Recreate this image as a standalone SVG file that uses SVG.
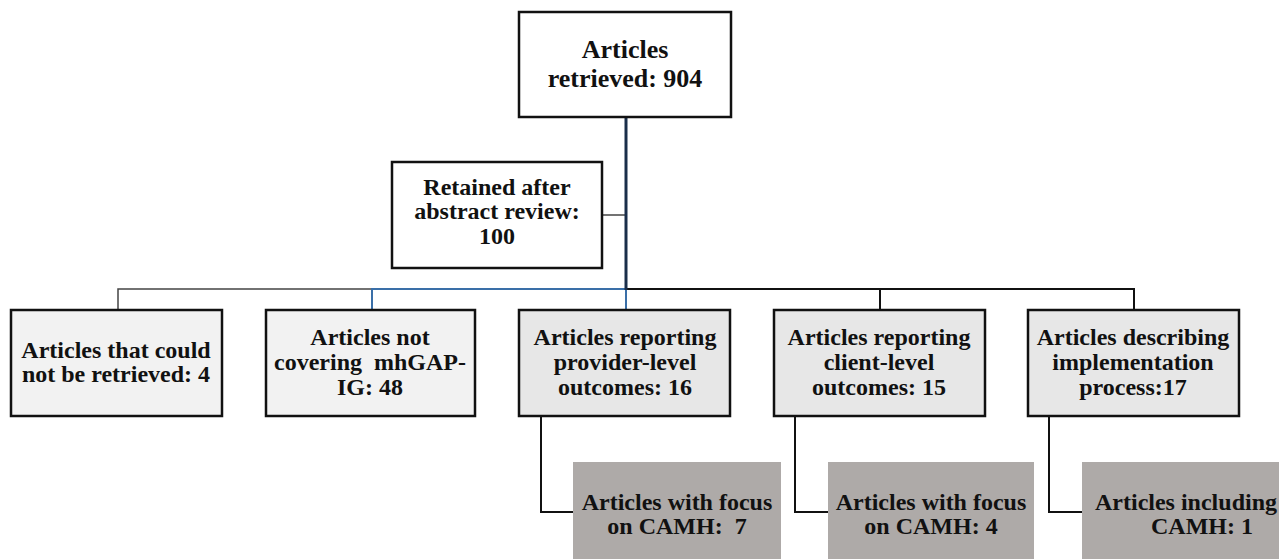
<svg xmlns="http://www.w3.org/2000/svg" width="1279" height="559" viewBox="0 0 1279 559">
<style>
text{font-weight:bold;fill:#111;text-anchor:middle}
.t{font-size:24px}
.top{font-size:26px}
.b0{fill:#fff;stroke:#111;stroke-width:2.5}
.b1{fill:#f2f2f2;stroke:#111;stroke-width:2.5}
.b2{fill:#e7e7e7;stroke:#111;stroke-width:2.5}
.s{fill:#aeaaa8;stroke:none}
.c{fill:none;stroke:#111;stroke-width:2}
.thin{fill:none;stroke:#444;stroke-width:1.5}
.blue{fill:none;stroke:#3a6fa8;stroke-width:2}
.navy{fill:none;stroke:#1a2e4a;stroke-width:3}
</style>
<rect width="1279" height="559" fill="#fff"/>
<g id="connectors">
<path class="thin" d="M118 310V289H372"/>
<path class="blue" d="M372 310V289H626V310"/>
<path class="c" d="M626 289H1134V310M880 289V310"/>
<path class="thin" d="M602 215H626"/>
<path class="navy" d="M626 117V290"/>
<path class="c" d="M541 416V512H573M795 416V512H828M1049 416V512H1082"/>
</g>
<g font-family="Liberation Serif, DejaVu Serif, Times New Roman, serif">
<g id="n-retrieved">
<rect class="b0" x="519" y="12" width="212" height="105"/>
<text class="top" x="625" y="58">Articles</text>
<text class="top" x="625" y="87">retrieved: 904</text>
</g>
<g id="n-retained">
<rect class="b0" x="392" y="162" width="210" height="106"/>
<text class="t" x="497" y="195">Retained after</text>
<text class="t" x="497" y="219">abstract review:</text>
<text class="t" x="497" y="244">100</text>
</g>
<g id="n-notretrieved">
<rect class="b1" x="11" y="310" width="211" height="106"/>
<text class="t" x="116" y="358">Articles that could</text>
<text class="t" x="116" y="382">not be retrieved: 4</text>
</g>
<g id="n-notcovering">
<rect class="b1" x="266" y="310" width="209" height="106"/>
<text class="t" x="370" y="345">Articles not</text>
<text class="t" x="370" y="370" xml:space="preserve">covering  mhGAP-</text>
<text class="t" x="370" y="395">IG: 48</text>
</g>
<g id="n-provider">
<rect class="b2" x="519" y="310" width="211" height="106"/>
<text class="t" x="625" y="345">Articles reporting</text>
<text class="t" x="625" y="370">provider-level</text>
<text class="t" x="625" y="395">outcomes: 16</text>
</g>
<g id="n-client">
<rect class="b2" x="774" y="310" width="211" height="106"/>
<text class="t" x="879" y="345">Articles reporting</text>
<text class="t" x="879" y="370">client-level</text>
<text class="t" x="879" y="395">outcomes: 15</text>
</g>
<g id="n-implementation">
<rect class="b2" x="1028" y="310" width="211" height="106"/>
<text class="t" x="1133" y="345">Articles describing</text>
<text class="t" x="1133" y="370">implementation</text>
<text class="t" x="1133" y="395">process:17</text>
</g>
<g id="n-camh-provider">
<rect class="s" x="573" y="462" width="208" height="97"/>
<text class="t" x="677" y="510">Articles with focus</text>
<text class="t" x="677" y="534" xml:space="preserve">on CAMH:  7</text>
</g>
<g id="n-camh-client">
<rect class="s" x="828" y="462" width="206" height="97"/>
<text class="t" x="931" y="510">Articles with focus</text>
<text class="t" x="931" y="534">on CAMH: 4</text>
</g>
<g id="n-camh-impl">
<rect class="s" x="1082" y="462" width="197" height="97"/>
<text class="t" x="1186" y="510">Articles including</text>
<text class="t" x="1202" y="534">CAMH: 1</text>
</g>
</g>
</svg>
